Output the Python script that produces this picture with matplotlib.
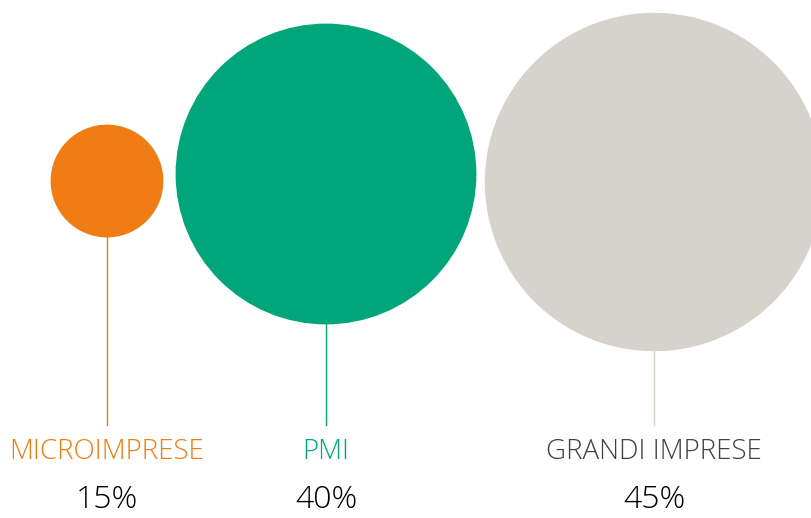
import matplotlib
matplotlib.use("Agg")
import matplotlib.pyplot as plt
from matplotlib.patches import Circle

# Data
categories = ["MICROIMPRESE", "PMI", "GRANDI IMPRESE"]
shares = [15, 40, 45]

# Layout / style
colors = ["#F07D13", "#00A57A", "#D6D2CC"]
label_colors = ["#F07D13", "#00A57A", "#404040"]
line_colors = ["#F07D13", "#00A57A", "#D6D2CC"]
x_centers = [107, 326, 654]
y_centers = [181, 174, 182]
scale = 3.76  # pixels of radius per percentage point
line_bottom = 425

fig = plt.figure(figsize=(8.11, 5.18), dpi=100)
ax = fig.add_axes([0, 0, 1, 1])
ax.set_xlim(0, 811)
ax.set_ylim(518, 0)
ax.set_aspect("equal")
ax.axis("off")

for cat, val, c, lc, tc, x, y in zip(categories, shares, colors, line_colors,
                                     label_colors, x_centers, y_centers):
    r = val * scale
    # stem from circle bottom down to the label
    ax.plot([x, x], [y + r, line_bottom], color=lc, lw=1, zorder=1)
    ax.add_patch(Circle((x, y), r, facecolor=c, edgecolor="none", zorder=2))
    ax.text(x, 452, cat, ha="center", va="center", fontsize=20,
            color=tc, family="Open Sans", fontweight="light")
    ax.text(x, 500, f"{val}%", ha="center", va="center", fontsize=23,
            color="#000000", family="Open Sans", fontweight="light")

fig.savefig("out.png", dpi=100)
